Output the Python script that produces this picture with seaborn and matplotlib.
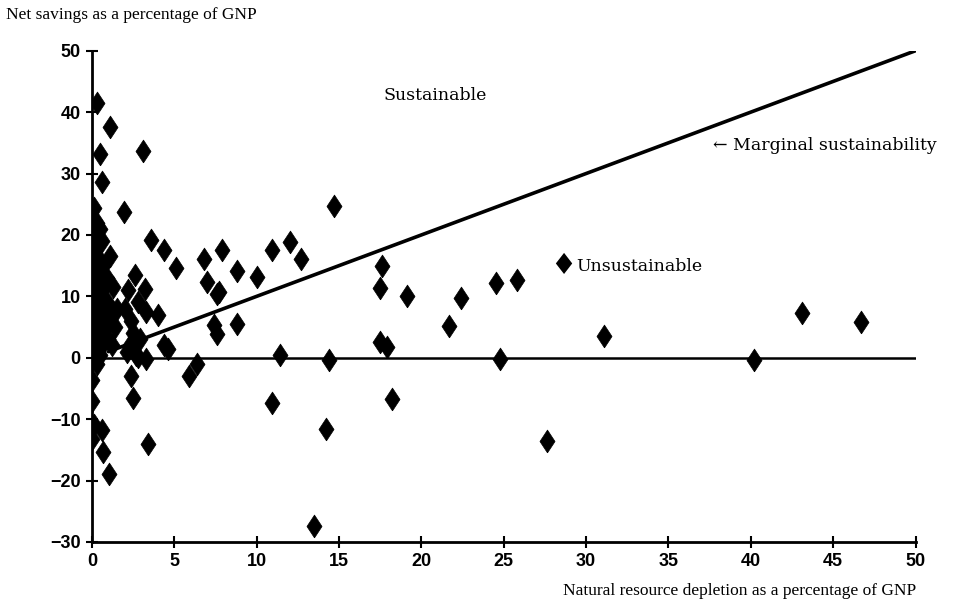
import numpy as np
import pandas as pd
import seaborn as sn
import matplotlib
matplotlib.use('Agg')
import matplotlib.pyplot as plt

# natural resource depletion (% of GNP) and net savings (% of GNP)
depletion = [
    # dense cluster near the y axis
    0.1, 0.2, 0.3, 0.1, 0.4, 0.2, 0.5, 0.1, 0.3, 0.6, 0.2, 0.4, 0.1, 0.7, 0.3,
    0.5, 0.2, 0.8, 0.1, 0.4, 0.6, 0.2, 0.5, 0.1, 0.3, 0.8, 0.9, 0.7, 0.9, 1.0,
    1.2, 1.3, 1.1, 1.5, 1.4, 0.6, 0.5, 0.3, 0.9, 1.2,
    0.3, 1.1, 0.5, 0.6, 0.1, 0.0, 0.0, 0.1, 0.6, 0.0, 0.65, 1.05,
    # second column
    2.0, 2.2, 2.4, 2.6, 2.5, 2.3, 2.8, 2.1, 2.7, 2.9, 3.2, 3.3, 4.0, 4.4, 4.6,
    3.3, 2.8, 2.4, 2.5, 3.1, 1.95, 3.6, 3.4, 5.9, 6.4,
    # middle
    4.4, 5.1, 6.8, 7.9, 8.8, 10.0, 7.0, 7.7, 7.6, 7.4, 8.8, 7.6,
    14.7, 10.9, 12.0, 12.7, 17.6, 17.5, 19.1, 24.5, 22.4, 21.7, 17.5, 17.9,
    11.4, 14.4, 10.9, 18.2, 24.8, 25.8, 31.1, 40.2, 43.1, 46.7, 27.6,
    13.5, 14.2,
]
net_savings = [
    20, 19, 18, 17, 16, 15, 14, 13, 12, 11, 10, 9, 8, 8, 7,
    6, 5, 5, 4, 3, 2, 1, 0.5, 0, -1, 12, 9, 15, 6, 3,
    2, 11.5, 16.5, 8, 5, 19, 21, 22, 13, 7,
    41.5, 37.6, 33.1, 28.6, 24.4, -3.7, -7.0, -11.0, -11.8, -13.2, -15.4, -18.9,
    8, 11, 6, 13.4, 4, 2, 9, 1, 0.5, 3, 11.2, 7.4, 7.0, 2.0, 1.5,
    -0.2, 0.2, -2.9, -6.6, 33.6, 23.8, 19.2, -14.0, -2.9, -1.0,
    17.6, 14.6, 16.1, 17.6, 14.1, 13.1, 12.4, 10.7, 10.4, 5.3, 5.5, 3.9,
    24.7, 17.6, 18.9, 16.0, 15.0, 11.4, 10.1, 12.2, 9.7, 5.1, 2.6, 1.7,
    0.4, -0.3, -7.3, -6.8, -0.2, 12.6, 3.6, -0.3, 7.3, 5.8, -13.5,
    -27.4, -11.6,
]
xticks = [0, 5, 10, 15, 20, 25, 30, 35, 40, 45, 50]
yticks = [-30, -20, -10, 0, 10, 20, 30, 40, 50]

df = pd.DataFrame({'depletion': depletion, 'savings': net_savings})

sn.set_style('ticks')
plt.rcParams['font.family'] = ['Liberation Serif', 'DejaVu Sans']
plt.rcParams['text.color'] = 'black'
plt.rcParams['xtick.color'] = 'black'
plt.rcParams['ytick.color'] = 'black'
plt.rcParams['axes.edgecolor'] = 'black'

fig = plt.figure(figsize=(9.61, 6.11), dpi=100)
ax = fig.add_axes([0.0957, 0.113, 0.857, 0.804])

# diamond a bit wider than matplotlib's thin diamond
diamond = [(0, -1), (0.66, 0), (0, 1), (-0.66, 0), (0, -1)]
sn.scatterplot(data=df, x='depletion', y='savings', marker=diamond, s=270,
               color='black', edgecolor='black', linewidth=0.5, ax=ax, zorder=3)

# zero line and the marginal sustainability line (savings = depletion)
ax.plot([0, 50], [0, 0], color='black', lw=1.8, zorder=2)
ax.plot([1, 50], [1, 50], color='black', lw=2.6, zorder=2)

ax.set_xlim(0, 50)
ax.set_ylim(-30, 50)
ax.set_xticks(xticks)
ax.set_yticks(yticks)
ax.set_xticklabels([str(v) for v in xticks], family='Liberation Sans',
                   fontweight='bold', fontsize=13)
ax.set_yticklabels([str(v).replace('-', '\u2212') for v in yticks],
                   family='Liberation Sans', fontweight='bold', fontsize=13)
ax.tick_params(direction='inout', length=8, width=1.5, pad=4)
sn.despine(ax=ax)
for s in ['left', 'bottom']:
    ax.spines[s].set_linewidth(2)
ax.set_xlabel('')
ax.set_ylabel('')

fig.text(0.006, 0.975, 'Net savings as a percentage of GNP', fontsize=12.5,
         va='center', ha='left')
fig.text(0.953, 0.032, 'Natural resource depletion as a percentage of GNP',
         fontsize=12.5, va='center', ha='right')

ann = dict(family='DejaVu Serif', fontsize=12.5, va='center', ha='left')
ax.text(17.7, 42.7, 'Sustainable', **ann)
ax.text(37.7, 34.6, '\u2190 Marginal sustainability', clip_on=False, **ann)
ax.text(27.8, 15.0, '\u2666', family='DejaVu Sans', fontsize=21,
        va='center', ha='left')
ax.text(29.4, 14.8, 'Unsustainable', **ann)

plt.savefig('out.png', dpi=100)
